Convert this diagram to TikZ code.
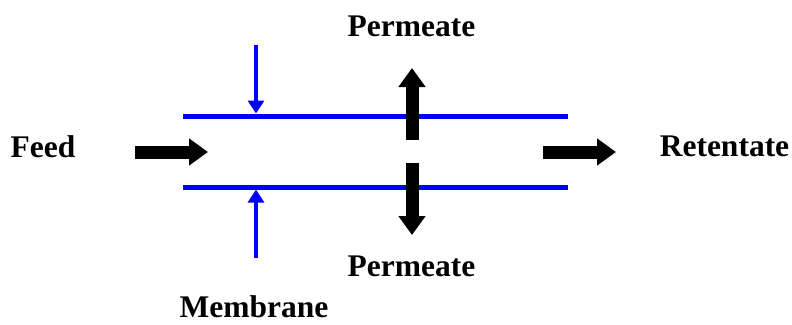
\documentclass[tikz,border=0pt]{standalone}
\usepackage{fontspec}
\setmainfont{Liberation Serif}
\usetikzlibrary{arrows.meta}
\definecolor{membraneblue}{RGB}{0,0,255}
\begin{document}
\begin{tikzpicture}[x=1bp,y=-1bp,
  label/.style={inner sep=0pt,anchor=base,font=\fontsize{31.5bp}{37bp}\selectfont\bfseries},
  membrane/.style={draw=membraneblue,line width=5bp},
  pointer/.style={draw=membraneblue,line width=4bp,-{Triangle[length=13bp,width=16bp]}},
  flow/.style={draw=black,line width=13bp,-{Triangle[length=19bp,width=26bp]}}]
\useasboundingbox (0,0) rectangle (792,324);

% labels
\node[label] (feed) at (43,157) {Feed};
\node[label] (retentate) at (724.5,156) {Retentate};
\node[label] (permT) at (411.5,36) {Permeate};
\node[label] (permB) at (411.5,276) {Permeate};
\node[label] (membraneLabel) at (254,317) {Membrane};

% membrane walls
\coordinate (wallTL) at (183,116);
\coordinate (wallTR) at (568,116);
\coordinate (wallBL) at (183,187);
\coordinate (wallBR) at (568,187);
\draw[membrane] (wallTL) -- (wallTR);
\draw[membrane] (wallBL) -- (wallBR);

% pointers to the membrane
\coordinate (ptrTs) at (256,45);
\coordinate (ptrTe) at (256,113.5);
\coordinate (ptrBs) at (256,258);
\coordinate (ptrBe) at (256,189.5);
\draw[pointer] (ptrTs) -- (ptrTe);
\draw[pointer] (ptrBs) -- (ptrBe);

% flows
\coordinate (feedS) at (135,152);
\coordinate (feedE) at (208,152);
\coordinate (retS) at (543,152);
\coordinate (retE) at (616,152);
\coordinate (upS) at (412,140);
\coordinate (upE) at (412,68);
\coordinate (downS) at (412,163);
\coordinate (downE) at (412,235);
\draw[flow] (feedS) -- (feedE);
\draw[flow] (retS) -- (retE);
\draw[flow] (upS) -- (upE);
\draw[flow] (downS) -- (downE);
\end{tikzpicture}
\end{document}
